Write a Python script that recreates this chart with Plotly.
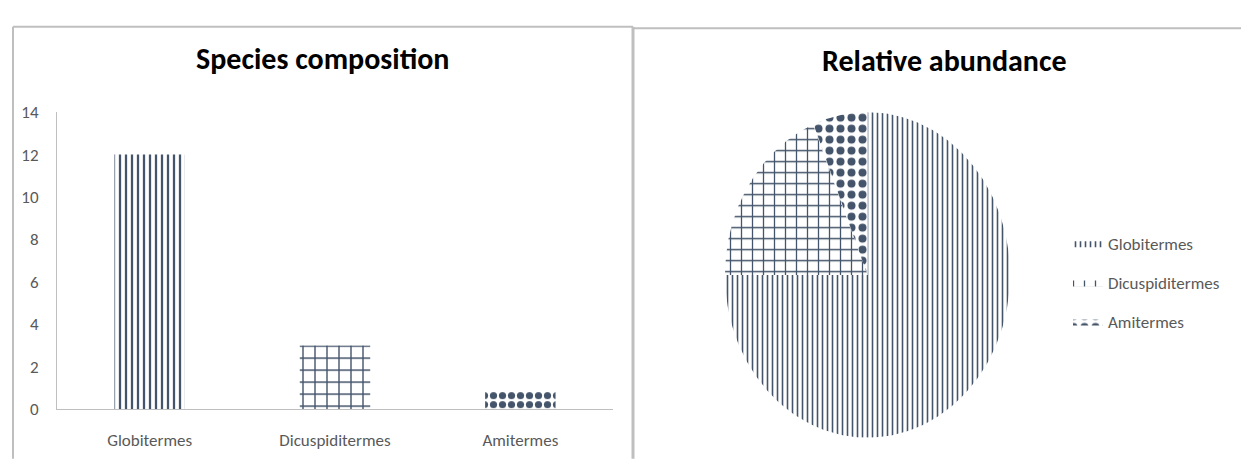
import numpy as np
import plotly.graph_objects as go

# ---- data ----
species = ["Globitermes", "Dicuspiditermes", "Amitermes"]
composition = [12, 3, 0.8]          # bar chart values
abundance = [12, 3, 1]              # pie chart values (relative abundance)
y_ticks = [0, 2, 4, 6, 8, 10, 12, 14]

W, H = 1241, 463
def px(x): return x / W
def py(y): return 1 - y / H

INK = "#44546A"
GRAY_TXT = "#595959"
AX = "#BFBFBF"
FONT = "Carlito, 'Liberation Sans Narrow', 'DejaVu Sans Condensed', 'Open Sans', sans-serif"

bar_patterns = [
    dict(shape="|", size=6, solidity=0.38),
    dict(shape="+", size=12, solidity=0.22),
    dict(shape=".", size=9, solidity=0.5),
]
pie_patterns = [
    dict(shape="|", size=5, solidity=0.32),
    dict(shape="+", size=11, solidity=0.22),
    dict(shape=".", size=11, solidity=0.42),
]

fig = go.Figure()

# ---- bar chart ----
for name, val, pat in zip(species, composition, bar_patterns):
    fig.add_trace(go.Bar(
        x=[name], y=[val], width=0.38, showlegend=False,
        marker=dict(color="white", line=dict(width=0),
                    pattern=dict(fgcolor=INK, bgcolor="white", fillmode="replace",
                                 fgopacity=1, **pat)),
        xaxis="x", yaxis="y", hoverinfo="skip"))

# ---- pie chart (elliptical, drawn on its own axes) ----
total = sum(abundance)
cum = 0.0
for name, val, pat in zip(species, abundance, pie_patterns):
    f0 = cum / total
    cum += val
    f1 = cum / total
    th = np.linspace(np.pi / 2 - 2 * np.pi * f0, np.pi / 2 - 2 * np.pi * f1, 200)
    xs = np.concatenate([[0], np.cos(th), [0]])
    ys = np.concatenate([[0], np.sin(th), [0]])
    fig.add_trace(go.Scatter(
        x=xs, y=ys, mode="lines", fill="toself", name=name,
        line=dict(width=0, color=INK), fillcolor="white",
        fillpattern=dict(fgcolor=INK, bgcolor="white", fillmode="replace",
                         fgopacity=1, **pat),
        legendgroup=name, xaxis="x2", yaxis="y2", hoverinfo="skip"))

fig.update_layout(
    width=W, height=H,
    margin=dict(l=0, r=0, t=0, b=0),
    paper_bgcolor="white", plot_bgcolor="white",
    font=dict(family=FONT, color=GRAY_TXT, size=17),
    xaxis=dict(domain=[px(57), px(613)], showline=True, linecolor=AX, linewidth=1,
               showgrid=False, zeroline=False, ticks="", ticklabelstandoff=16,
               tickfont=dict(size=17, color=GRAY_TXT), fixedrange=True),
    yaxis=dict(domain=[py(418), py(107)], range=[0, 14], tickvals=y_ticks,
               showline=True, linecolor=AX, linewidth=1, showgrid=False,
               zeroline=False, ticks="", ticklabelstandoff=14,
               tickfont=dict(size=17, color=GRAY_TXT), fixedrange=True),
    xaxis2=dict(domain=[px(725), px(1010)], range=[-1.0, 1.0], visible=False,
                anchor="y2", fixedrange=True),
    yaxis2=dict(domain=[py(448), py(107)], range=[-1.0, 1.0], visible=False,
                anchor="x2", fixedrange=True),
    legend=dict(x=px(1068), y=py(226), xanchor="left", yanchor="top",
                font=dict(size=17, color=GRAY_TXT), tracegroupgap=14,
                traceorder="grouped", itemwidth=30, bgcolor="rgba(0,0,0,0)"),
    showlegend=True,
    annotations=[
        dict(text="<b>Species composition</b>", x=px(322), y=py(51), xref="paper", yref="paper",
             xanchor="center", yanchor="middle",
             showarrow=False, font=dict(size=30, color="#000000", family=FONT)),
        dict(text="<b>Relative abundance</b>", x=px(944), y=py(53), xref="paper", yref="paper",
             xanchor="center", yanchor="middle",
             showarrow=False, font=dict(size=30, color="#000000", family=FONT)),
    ],
    shapes=[
        dict(type="line", xref="paper", yref="paper", x0=px(13), x1=px(13), y0=py(17.5), y1=py(470),
             line=dict(color=AX, width=2)),
        dict(type="line", xref="paper", yref="paper", x0=px(13), x1=px(633), y0=py(17.5), y1=py(17.5),
             line=dict(color=AX, width=2)),
        dict(type="line", xref="paper", yref="paper", x0=px(633), x1=px(633), y0=py(17.5), y1=py(470),
             line=dict(color=AX, width=3)),
        dict(type="line", xref="paper", yref="paper", x0=px(633), x1=px(1241), y0=py(19), y1=py(19),
             line=dict(color=AX, width=2)),
    ],
)

fig.write_html("out.html")
